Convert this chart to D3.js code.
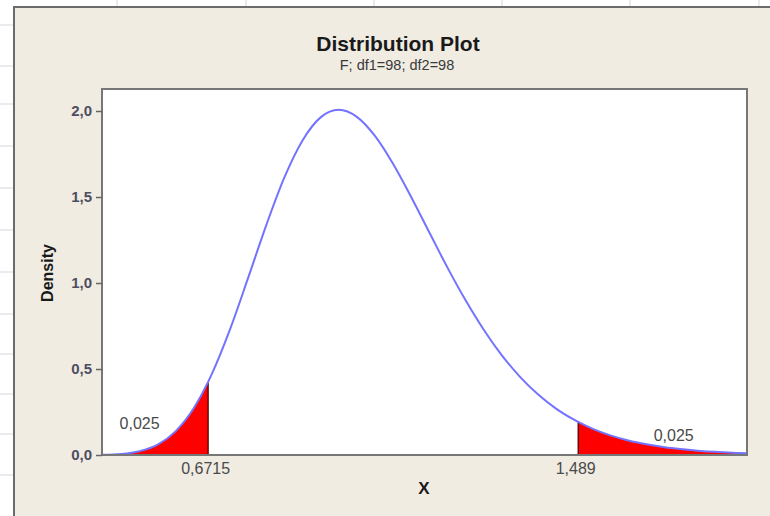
<!DOCTYPE html>
<html>
<head>
<meta charset="utf-8">
<script src="https://cdn.jsdelivr.net/npm/d3@7"></script>
<style>
  html, body { margin: 0; padding: 0; background: #ffffff; }
  svg { display: block; font-family: "Liberation Sans", Arial, sans-serif; }
</style>
</head>
<body>
<div id="chart"></div>
<script>
// F distribution, df1=98, df2=98 -- density
const xValues = [0.437, 0.48, 0.52, 0.56, 0.60, 0.64, 0.6715, 0.68, 0.72, 0.76, 0.80, 0.84,
  0.88, 0.92, 0.96, 1.00, 1.04, 1.08, 1.12, 1.16, 1.20, 1.24, 1.28, 1.32, 1.36, 1.40,
  1.44, 1.48, 1.489, 1.52, 1.56, 1.60, 1.64, 1.68, 1.72, 1.76, 1.80, 1.84, 1.862];
const density = [0.001, 0.006, 0.022, 0.060, 0.139, 0.273, 0.425, 0.473, 0.732, 1.031, 1.337, 1.614,
  1.829, 1.963, 2.007, 1.966, 1.855, 1.693, 1.500, 1.295, 1.091, 0.901, 0.730, 0.581, 0.456, 0.353,
  0.270, 0.205, 0.192, 0.153, 0.114, 0.084, 0.062, 0.045, 0.033, 0.023, 0.017, 0.012, 0.010];

const criticalValues = [0.6715, 1.489];
const criticalLabels = ["0,6715", "1,489"];
const tailProbs = ["0,025", "0,025"];
const tailLabelPos = [[0.52, 0.15], [1.70, 0.08]];

const yTicks = [0, 0.5, 1.0, 1.5, 2.0];
const fmt = (d) => d.toFixed(1).replace(".", ",");

const width = 770;
const height = 516;

const svg = d3.select("#chart")
  .append("svg")
  .attr("width", width)
  .attr("height", height);

// spreadsheet behind the graph window
svg.append("rect").attr("width", width).attr("height", height).attr("fill", "#ffffff");
const gridRows = [25, 66, 104, 146, 188, 230, 272, 314, 354, 394, 434, 475];
const gridCols = [117, 246, 374, 502, 630, 759];
svg.append("g").selectAll("line").data(gridRows).join("line")
  .attr("x1", 0).attr("x2", 14).attr("y1", (d) => d).attr("y2", (d) => d)
  .attr("stroke", "#d4d7dc");
svg.append("g").selectAll("line").data(gridCols).join("line")
  .attr("x1", (d) => d).attr("x2", (d) => d).attr("y1", 0).attr("y2", 7)
  .attr("stroke", "#d4d7dc");

// graph window
svg.append("rect")
  .attr("x", 14).attr("y", 7)
  .attr("width", width).attr("height", height)
  .attr("fill", "#f0ece2")
  .attr("stroke", "#6b6b6b")
  .attr("stroke-width", 2);

const margin = { left: 102, right: 747, top: 89, bottom: 455 };

const x = d3.scaleLinear()
  .domain([xValues[0], xValues[xValues.length - 1]])
  .range([margin.left, margin.right]);

const y = d3.scaleLinear()
  .domain([0, 2.128])
  .range([margin.bottom, margin.top]);

const points = xValues.map((v, i) => ({ x: v, y: density[i] }));

// plot area
svg.append("rect")
  .attr("x", margin.left).attr("y", margin.top)
  .attr("width", margin.right - margin.left)
  .attr("height", margin.bottom - margin.top)
  .attr("fill", "#ffffff");

// shaded tails
const area = d3.area()
  .x((d) => x(d.x))
  .y0(y(0))
  .y1((d) => y(d.y))
  .curve(d3.curveMonotoneX);

const tails = [
  points.filter((d) => d.x <= criticalValues[0]),
  points.filter((d) => d.x >= criticalValues[1]),
];

svg.append("g").selectAll("path").data(tails).join("path")
  .attr("d", area)
  .attr("fill", "#ff0000");

svg.append("g").selectAll("line").data(criticalValues).join("line")
  .attr("x1", (d) => x(d)).attr("x2", (d) => x(d))
  .attr("y1", y(0))
  .attr("y2", (d, i) => y(i === 0 ? tails[0][tails[0].length - 1].y : tails[1][0].y))
  .attr("stroke", "#3a0000")
  .attr("stroke-width", 1.2);

// density curve
const line = d3.line()
  .x((d) => x(d.x))
  .y((d) => y(d.y))
  .curve(d3.curveMonotoneX);

svg.append("path")
  .datum(points)
  .attr("d", line)
  .attr("fill", "none")
  .attr("stroke", "#7373ff")
  .attr("stroke-width", 2);

// frame
svg.append("rect")
  .attr("x", margin.left).attr("y", margin.top)
  .attr("width", margin.right - margin.left)
  .attr("height", margin.bottom - margin.top)
  .attr("fill", "none")
  .attr("stroke", "#777777")
  .attr("stroke-width", 2);

// y axis
const yAxis = svg.append("g")
  .attr("transform", `translate(${margin.left},0)`)
  .call(d3.axisLeft(y).tickValues(yTicks).tickFormat(fmt).tickSize(6).tickPadding(4));
yAxis.select(".domain").remove();
yAxis.selectAll(".tick line").attr("stroke", "#666666").attr("stroke-width", 1.5);
yAxis.selectAll(".tick text")
  .attr("fill", "#4e4e60")
  .attr("font-size", 15)
  .attr("font-weight", "bold")
  .attr("font-family", "Liberation Sans, Arial, sans-serif");

// x axis: only the critical values
const xAxis = svg.append("g")
  .attr("transform", `translate(0,${margin.bottom})`)
  .call(d3.axisBottom(x).tickValues(criticalValues)
    .tickFormat((d, i) => criticalLabels[i]).tickSize(0).tickPadding(8));
xAxis.select(".domain").remove();
xAxis.selectAll(".tick text")
  .attr("dx", -3)
  .attr("fill", "#4a4a4a")
  .attr("font-size", 16)
  .attr("font-family", "Liberation Sans, Arial, sans-serif");

// tail probabilities
svg.append("g").selectAll("text").data(tailProbs).join("text")
  .attr("x", (d, i) => x(tailLabelPos[i][0]))
  .attr("y", (d, i) => y(tailLabelPos[i][1]))
  .attr("text-anchor", "middle")
  .attr("font-size", 16)
  .attr("fill", "#4a4a4a")
  .text((d) => d);

// titles
svg.append("text")
  .attr("x", 398).attr("y", 51)
  .attr("text-anchor", "middle")
  .attr("font-size", 21)
  .attr("font-weight", "bold")
  .attr("fill", "#1a1a1a")
  .text("Distribution Plot");

svg.append("text")
  .attr("x", 397).attr("y", 70)
  .attr("text-anchor", "middle")
  .attr("font-size", 14.5)
  .attr("fill", "#3a3a3a")
  .text("F; df1=98; df2=98");

svg.append("text")
  .attr("x", 424).attr("y", 494)
  .attr("text-anchor", "middle")
  .attr("font-size", 17)
  .attr("font-weight", "bold")
  .attr("fill", "#1a1a1a")
  .text("X");

svg.append("text")
  .attr("transform", "translate(53,273) rotate(-90)")
  .attr("text-anchor", "middle")
  .attr("font-size", 16)
  .attr("font-weight", "bold")
  .attr("fill", "#1a1a1a")
  .text("Density");
</script>
</body>
</html>
